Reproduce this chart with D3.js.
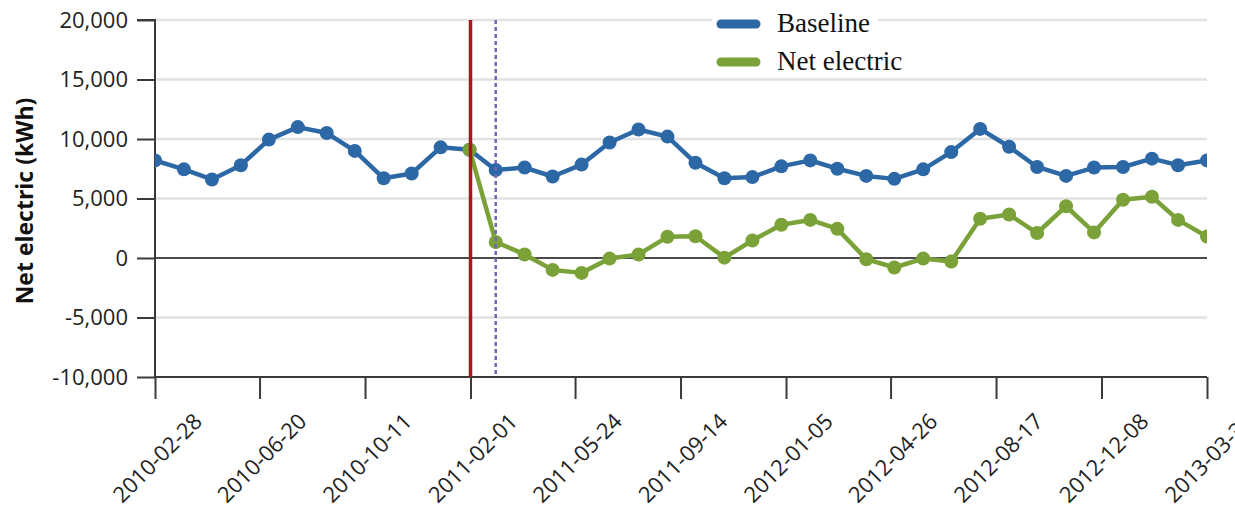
<!DOCTYPE html>
<html>
<head>
<meta charset="utf-8">
<script src="https://cdn.jsdelivr.net/npm/d3@7"></script>
<style>
  html, body { margin: 0; padding: 0; background: #fff; }
  svg { display: block; }
</style>
</head>
<body>
<svg id="chart" width="1235" height="508"></svg>
<script>
const dates = [
  "2010-02-28","2010-03-31","2010-04-30","2010-05-31","2010-06-30","2010-07-31",
  "2010-08-31","2010-09-30","2010-10-31","2010-11-30","2010-12-31","2011-01-31",
  "2011-02-28","2011-03-31","2011-04-30","2011-05-31","2011-06-30","2011-07-31",
  "2011-08-31","2011-09-30","2011-10-31","2011-11-30","2011-12-31","2012-01-31",
  "2012-02-29","2012-03-31","2012-04-30","2012-05-31","2012-06-30","2012-07-31",
  "2012-08-31","2012-09-30","2012-10-31","2012-11-30","2012-12-31","2013-01-31",
  "2013-02-28","2013-03-31"
];
const baseline = [
  8200, 7450, 6600, 7800, 9950, 11000, 10500, 9000, 6700, 7100, 9300, 9100,
  7400, 7600, 6850, 7850, 9700, 10800, 10200, 8000, 6700, 6800, 7700, 8200,
  7500, 6900, 6650, 7450, 8900, 10850, 9350, 7650, 6900, 7600, 7650, 8350,
  7800, 8200
];
const netElectric = [
  null, null, null, null, null, null, null, null, null, null, null, 9100,
  1350, 300, -1000, -1250, -50, 300, 1780, 1830, 30, 1470, 2800, 3200,
  2450, -100, -800, -50, -300, 3300, 3650, 2100, 4350, 2150, 4900, 5150,
  3200, 1800
];
const xTickLabels = [
  "2010-02-28","2010-06-20","2010-10-11","2011-02-01","2011-05-24","2011-09-14",
  "2012-01-05","2012-04-26","2012-08-17","2012-12-08","2013-03-31"
];
const yTicks = [-10000, -5000, 0, 5000, 10000, 15000, 20000];
const seriesNames = ["Baseline", "Net electric"];
const seriesColors = ["#2d68a6", "#7aa238"];
const retrofitDate = "2011-02-01";
const postDate = "2011-02-28";

const parse = d3.timeParse("%Y-%m-%d");
const svg = d3.select("#chart");
const L = 155, R = 1207, T = 20, B = 377;

const x = d3.scaleTime()
  .domain([parse("2010-02-28"), parse("2013-03-31")])
  .range([L, R]);
const y = d3.scaleLinear().domain([-10000, 20000]).range([B, T]);

// gridlines
svg.append("g").selectAll("line").data(yTicks.filter(v => v !== 0 && v !== -10000)).join("line")
  .attr("x1", L).attr("x2", R)
  .attr("y1", d => y(d)).attr("y2", d => y(d))
  .attr("stroke", "#e2e2e2").attr("stroke-width", 2.5);

// zero line
svg.append("line").attr("x1", L).attr("x2", R).attr("y1", y(0)).attr("y2", y(0))
  .attr("stroke", "#4a4a4a").attr("stroke-width", 2);

// y axis
const fmt = d3.format(",");
const yAxis = d3.axisLeft(y).tickValues(yTicks).tickSize(18).tickPadding(9)
  .tickFormat(d => fmt(d).replace("\u2212", "-"));
const gy = svg.append("g").attr("transform", `translate(${L},0)`).call(yAxis);
gy.select(".domain").attr("stroke", "#3a3a3a").attr("stroke-width", 2).attr("d", `M-18,${T}H0V${B}`);
gy.selectAll(".tick line").attr("stroke", "#3a3a3a").attr("stroke-width", 2);
gy.selectAll(".tick text").attr("font-family", "'Open Sans', sans-serif")
  .attr("font-size", 22).attr("fill", "#222");

// x axis
const xAxis = d3.axisBottom(x).tickValues(xTickLabels.map(parse)).tickSize(22)
  .tickFormat(d3.timeFormat("%Y-%m-%d"));
const gx = svg.append("g").attr("transform", `translate(0,${B})`).call(xAxis);
gx.select(".domain").attr("stroke", "#3a3a3a").attr("stroke-width", 2).attr("d", `M${L},0H${R}`);
gx.selectAll(".tick line").attr("stroke", "#3a3a3a").attr("stroke-width", 2);
gx.selectAll(".tick text")
  .attr("font-family", "'Open Sans', sans-serif").attr("font-size", 22).attr("fill", "#222")
  .attr("text-anchor", "middle").attr("dominant-baseline", "central")
  .attr("x", 0).attr("y", 0).attr("dy", null)
  .attr("transform", "translate(1,80) rotate(-45)");

// clip
svg.append("clipPath").attr("id", "plotclip").append("rect")
  .attr("x", L).attr("y", 0).attr("width", R - L).attr("height", B + 1);
const plot = svg.append("g").attr("clip-path", "url(#plotclip)");

const series = [baseline, netElectric];
series.forEach((vals, i) => {
  const pts = dates.map((d, k) => ({ d: parse(d), v: vals[k] })).filter(p => p.v !== null);
  const line = d3.line().x(p => x(p.d)).y(p => y(p.v));
  plot.append("path").datum(pts).attr("d", line)
    .attr("fill", "none").attr("stroke", seriesColors[i]).attr("stroke-width", 4.5)
    .attr("stroke-linejoin", "round");
  plot.append("g").selectAll("circle").data(pts).join("circle")
    .attr("cx", p => x(p.d)).attr("cy", p => y(p.v)).attr("r", 7)
    .attr("fill", seriesColors[i]);
});

// event lines
svg.append("line").attr("x1", x(parse(retrofitDate))).attr("x2", x(parse(retrofitDate)))
  .attr("y1", T).attr("y2", B).attr("stroke", "#a01c1c").attr("stroke-width", 3.5);
svg.append("line").attr("x1", x(parse(postDate))).attr("x2", x(parse(postDate)))
  .attr("y1", T).attr("y2", B).attr("stroke", "#7466b5").attr("stroke-width", 2.5)
  .attr("stroke-dasharray", "4,3");

// y title
svg.append("text")
  .attr("transform", "translate(24,201) rotate(-90)")
  .attr("text-anchor", "middle").attr("dominant-baseline", "central")
  .attr("font-family", "'Open Sans', sans-serif").attr("font-weight", "bold")
  .attr("font-size", 23).attr("fill", "#111")
  .text("Net electric (kWh)");

// legend
const legend = svg.append("g");
seriesNames.forEach((name, i) => {
  const cy = 24 + i * 38;
  const g = legend.append("g");
  g.append("rect").attr("x", 712).attr("y", cy - 14).attr("width", 166 + i * 30).attr("height", 28)
    .attr("fill", "#fff");
  g.append("line").attr("x1", 721).attr("x2", 756).attr("y1", cy).attr("y2", cy)
    .attr("stroke", seriesColors[i]).attr("stroke-width", 9).attr("stroke-linecap", "round");
  g.append("text").attr("x", 777).attr("y", cy + 8)
    .attr("font-family", "'Liberation Serif', 'Times New Roman', serif")
    .attr("font-size", 27).attr("fill", "#111").text(name);
});
</script>
</body>
</html>
